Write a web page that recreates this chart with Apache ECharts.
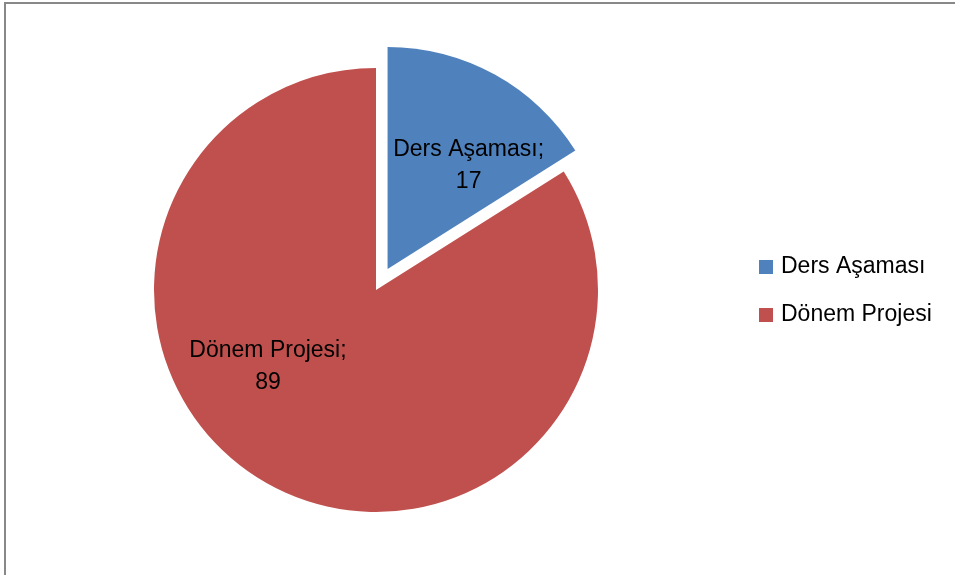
<!DOCTYPE html>
<html>
<head>
<meta charset="utf-8">
<script src="https://cdn.jsdelivr.net/npm/echarts@6/dist/echarts.min.js"></script>
<style>
  html, body { margin: 0; padding: 0; background: #fff; }
  .frame {
    position: absolute; left: 4px; top: 2px; width: 960px; height: 580px;
    border-top: 2px solid #888; border-left: 2px solid #888;
  }
  #chart { position: absolute; left: 0; top: 0; width: 955px; height: 575px; }
</style>
</head>
<body>
<div class="frame"></div>
<div id="chart"></div>
<script>
// data
const categories = ["Ders Aşaması", "Dönem Projesi"];
const values = [17, 89];
const colors = ["#4F81BD", "#C0504D"];
const exploded = [true, false];
// label nudges, so text sits like the original
const labelOffsets = [[26, -3], [-53, -23]];

const chart = echarts.init(document.getElementById("chart"));

const pieData = categories.map((name, i) => ({
  name: name,
  value: values[i],
  selected: exploded[i],
  itemStyle: { color: colors[i] },
  label: { offset: labelOffsets[i] },
  select: { label: { offset: labelOffsets[i] } }
}));

const option = {
  animation: false,
  textStyle: { fontFamily: "Liberation Sans" },
  legend: {
    orient: "vertical",
    left: 759,
    top: 254,
    padding: 0,
    icon: "rect",
    itemWidth: 14,
    itemHeight: 14,
    itemGap: 22,
    selectedMode: false,
    data: categories,
    textStyle: {
      fontFamily: "Liberation Sans",
      fontSize: 23,
      color: "#000",
      lineHeight: 26,
      padding: [0, 0, 0, 3]
    }
  },
  series: [
    {
      type: "pie",
      center: [376, 290],
      radius: 222,
      startAngle: 90,
      clockwise: true,
      selectedMode: "multiple",
      selectedOffset: 24,
      silent: true,
      label: {
        show: true,
        position: "inside",
        formatter: "{b};\n{c}",
        fontFamily: "Liberation Sans",
        fontSize: 23,
        lineHeight: 32,
        color: "#000",
        align: "center"
      },
      labelLine: { show: false },
      itemStyle: { borderWidth: 0 },
      emphasis: { disabled: true },
      data: pieData
    }
  ]
};

chart.setOption(option);
</script>
</body>
</html>
